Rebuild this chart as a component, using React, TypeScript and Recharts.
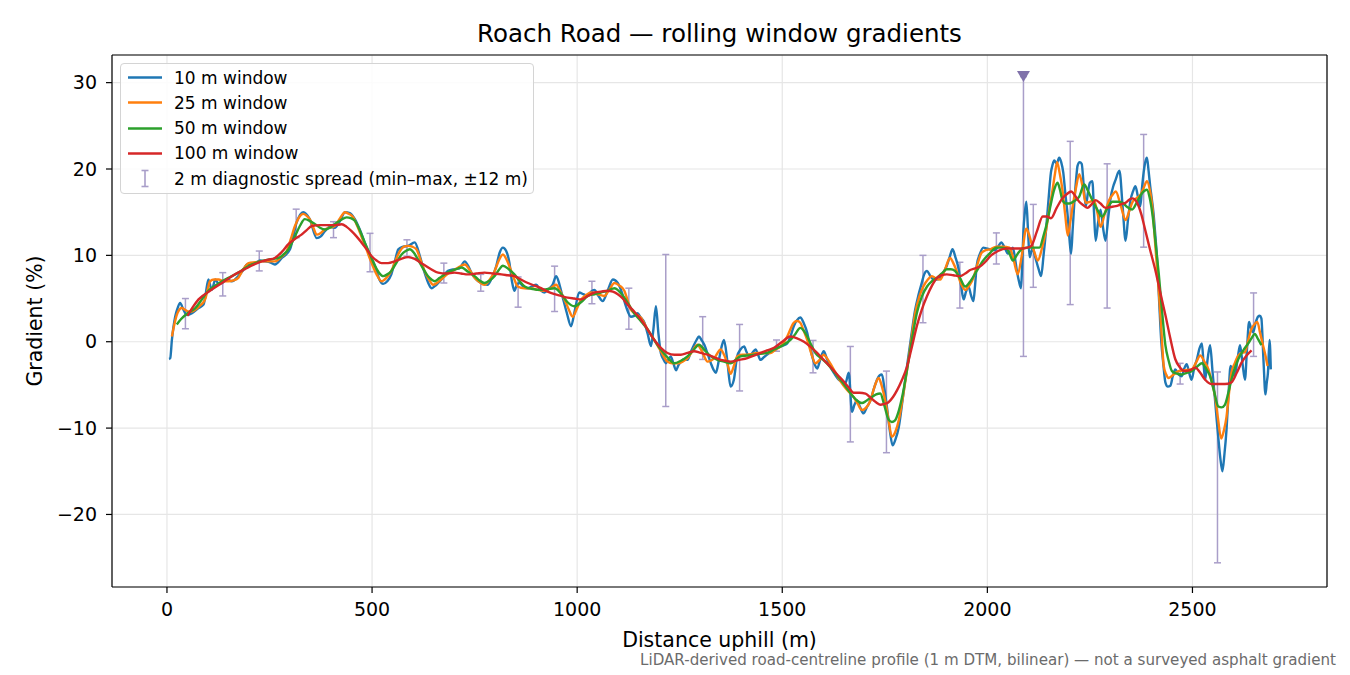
import { ComposedChart, Line, Scatter, ErrorBar, XAxis, YAxis, CartesianGrid, Label, ReferenceLine } from 'recharts';

const FONT = '"DejaVu Sans", "Liberation Sans", sans-serif';

// distance (m), gradient (%)
const W10: [number, number][] = [
  [5, -2.0], [8, -1.9], [12, 0.2], [20, 2.9], [26, 3.9], [32, 4.5], [40, 3.7], [49, 3.1], [61, 3.3], [77, 3.9],
  [89, 4.3], [93, 5.1], [101, 7.2], [109, 6.0], [118, 7.2], [126, 6.7], [134, 6.8], [146, 7.2], [158, 7.0], [174, 7.6],
  [186, 8.3], [195, 8.95], [205, 9.0], [215, 9.1], [227, 9.4], [239, 9.3], [251, 9.2], [263, 8.95], [280, 9.7], [300, 10.7],
  [316, 13.8], [332, 15.0], [348, 14.2], [365, 12.0], [375, 12.2], [385, 12.8], [397, 13.3], [409, 13.2], [422, 14.0], [434, 15.0],
  [446, 14.9], [458, 14.2], [470, 13.0], [482, 11.5], [495, 10.0], [507, 8.8], [517, 7.3], [527, 6.7], [537, 7.0], [547, 7.8],
  [556, 9.4], [564, 10.7], [576, 11.0], [588, 11.1], [604, 11.5], [616, 10.0], [628, 8.0], [637, 6.8], [645, 6.2], [657, 6.6],
  [669, 7.2], [685, 8.2], [701, 8.4], [713, 8.5], [726, 9.3], [734, 8.8], [742, 8.0], [754, 7.2], [766, 6.8], [782, 6.6],
  [793, 7.5], [803, 8.8], [811, 10.3], [819, 10.9], [827, 10.5], [835, 9.1], [841, 7.0], [847, 5.9], [853, 6.6], [860, 6.8],
  [870, 6.3], [880, 6.2], [890, 6.4], [900, 6.6], [910, 6.0], [920, 5.7], [930, 6.1], [940, 6.6], [949, 7.6], [957, 6.6],
  [965, 5.1], [975, 3.3], [985, 1.8], [995, 3.8], [1005, 5.7], [1015, 5.5], [1026, 5.3], [1034, 5.8], [1042, 6.0], [1052, 5.3],
  [1062, 4.7], [1075, 6.0], [1087, 7.2], [1099, 6.8], [1109, 5.7], [1119, 4.1], [1131, 2.9], [1139, 3.0], [1147, 3.3], [1155, 2.8],
  [1164, 2.2], [1172, 0.9], [1180, -0.5], [1186, 1.5], [1192, 4.1], [1198, 1.0], [1204, -1.3], [1210, -2.0], [1216, -2.5], [1222, -2.1],
  [1228, -1.7], [1234, -2.4], [1241, -3.3], [1247, -2.7], [1253, -2.3], [1261, -2.0], [1269, -2.1], [1277, -1.2], [1285, -0.35], [1291, 0.2],
  [1297, 0.6], [1303, 0.2], [1310, -0.35], [1318, -1.4], [1326, -2.5], [1332, -3.2], [1338, -3.6], [1346, -2.0], [1352, -0.6], [1358, 0.2],
  [1366, -2.2], [1374, -5.2], [1382, -4.4], [1390, -1.7], [1398, -0.9], [1407, -0.55], [1413, -1.2], [1419, -1.7], [1427, -1.3], [1435, -0.9],
  [1441, -1.5], [1447, -2.1], [1455, -1.8], [1463, -1.5], [1471, -1.2], [1480, -0.9], [1488, -0.7], [1496, -0.55], [1504, -0.4], [1512, -0.2],
  [1520, 0.6], [1528, 1.8], [1536, 2.5], [1544, 2.8], [1552, 2.2], [1561, 1.0], [1567, -0.4], [1573, -1.7], [1579, -2.6], [1585, -3.1],
  [1593, -2.0], [1601, -1.1], [1609, -2.0], [1617, -2.9], [1627, -3.7], [1638, -4.4], [1646, -4.6], [1654, -4.8], [1662, -3.6], [1670, -8.1],
  [1676, -7.3], [1682, -6.8], [1690, -7.6], [1698, -8.3], [1706, -7.6], [1715, -6.8], [1723, -5.5], [1731, -4.4], [1737, -3.9], [1743, -3.8],
  [1749, -5.4], [1755, -7.5], [1762, -10.2], [1769, -12.0], [1776, -11.3], [1784, -9.9], [1794, -6.5], [1804, -2.9], [1814, 0.5], [1824, 3.7],
  [1832, 5.4], [1840, 6.8], [1846, 7.8], [1853, 8.2], [1861, 7.6], [1869, 7.2], [1877, 7.2], [1885, 7.4], [1893, 8.0], [1901, 8.8],
  [1908, 9.8], [1915, 10.7], [1922, 9.8], [1930, 8.4], [1936, 6.5], [1942, 4.9], [1948, 5.8], [1954, 6.4], [1960, 5.4], [1966, 4.7],
  [1970, 6.5], [1974, 8.8], [1982, 10.2], [1990, 10.9], [1998, 10.8], [2007, 10.7], [2018, 10.6], [2026, 11.0], [2034, 11.5], [2042, 10.9],
  [2050, 10.2], [2056, 10.5], [2062, 10.9], [2067, 9.8], [2072, 8.2], [2077, 7.0], [2082, 6.2], [2085, 9.0], [2088, 12.9], [2091, 14.8],
  [2095, 16.2], [2099, 13.0], [2103, 9.8], [2107, 10.4], [2111, 10.9], [2115, 10.1], [2119, 9.4], [2125, 8.4], [2131, 7.6], [2137, 10.0],
  [2143, 12.9], [2149, 16.4], [2155, 19.6], [2159, 20.5], [2163, 21.0], [2169, 20.6], [2175, 21.3], [2180, 20.8], [2185, 19.6], [2190, 17.2],
  [2196, 14.5], [2200, 12.0], [2204, 10.2], [2208, 13.0], [2212, 16.1], [2216, 18.6], [2220, 20.4], [2225, 20.8], [2230, 20.6], [2235, 18.0],
  [2240, 15.7], [2245, 17.2], [2250, 18.4], [2256, 18.6], [2260, 15.0], [2264, 11.7], [2270, 13.8], [2276, 15.3], [2282, 13.2], [2288, 11.7],
  [2295, 14.5], [2301, 16.8], [2307, 18.0], [2313, 18.8], [2318, 19.5], [2322, 19.8], [2330, 15.5], [2337, 11.7], [2343, 14.2], [2349, 16.4],
  [2355, 17.4], [2361, 18.0], [2367, 16.8], [2373, 15.7], [2377, 17.8], [2381, 19.6], [2385, 20.8], [2389, 21.3], [2393, 19.8], [2397, 18.0],
  [2401, 16.5], [2405, 14.9], [2410, 12.0], [2414, 9.4], [2419, 4.5], [2424, 0.0], [2429, -2.6], [2434, -4.7], [2440, -5.2], [2446, -5.1],
  [2452, -4.0], [2458, -3.2], [2466, -3.8], [2474, -4.0], [2480, -3.1], [2486, -2.6], [2492, -3.6], [2498, -4.4], [2504, -3.1], [2511, -2.0],
  [2517, -0.8], [2523, -0.2], [2527, -2.5], [2531, -4.4], [2537, -2.0], [2543, -0.4], [2549, -3.5], [2555, -6.7], [2559, -9.0], [2563, -11.1],
  [2568, -13.5], [2573, -15.0], [2578, -13.0], [2583, -10.2], [2588, -6.0], [2593, -2.8], [2598, -3.4], [2603, -4.0], [2610, -2.0], [2616, -0.4],
  [2622, -2.5], [2628, -4.4], [2633, -0.8], [2638, 2.3], [2643, 1.5], [2648, 1.1], [2654, 2.2], [2660, 2.9], [2664, 3.0], [2668, 2.7],
  [2673, -2.0], [2678, -6.1], [2681, -4.8], [2684, -3.6], [2688, 0.2], [2691, -3.2],
];

const W25: [number, number][] = [
  [12, 0.6], [18, 2.0], [24, 3.1], [30, 3.7], [36, 3.9], [44, 3.7], [53, 3.5], [61, 3.5], [69, 3.7], [81, 4.2],
  [93, 4.9], [99, 6.0], [105, 7.0], [115, 7.2], [126, 7.2], [138, 7.0], [150, 7.0], [162, 7.1], [174, 7.4], [186, 8.4],
  [199, 9.1], [215, 9.2], [231, 9.3], [247, 9.3], [263, 9.3], [278, 9.8], [292, 10.5], [302, 11.9], [312, 13.4], [322, 14.4],
  [332, 14.8], [340, 14.6], [348, 14.2], [357, 13.2], [365, 12.4], [375, 12.6], [385, 13.0], [397, 13.2], [409, 13.4], [422, 14.3],
  [434, 15.0], [444, 14.8], [454, 14.4], [464, 13.4], [474, 12.2], [487, 10.6], [499, 9.1], [511, 7.8], [523, 7.0], [535, 7.4],
  [547, 8.2], [558, 9.5], [568, 10.5], [578, 11.0], [588, 11.1], [598, 11.0], [608, 10.7], [618, 9.5], [628, 8.2], [639, 7.2],
  [649, 6.6], [661, 6.9], [673, 7.4], [683, 7.8], [693, 8.1], [710, 8.6], [726, 8.95], [738, 8.3], [750, 7.4], [762, 6.9],
  [774, 6.6], [787, 7.2], [799, 8.2], [809, 9.4], [819, 10.1], [829, 9.4], [839, 8.2], [847, 7.2], [855, 6.4], [871, 6.2],
  [888, 6.2], [904, 6.0], [920, 5.9], [935, 6.2], [949, 6.6], [959, 5.8], [969, 4.9], [979, 3.8], [989, 2.9], [999, 3.8],
  [1010, 4.9], [1022, 5.4], [1034, 5.7], [1050, 5.5], [1066, 5.3], [1078, 6.0], [1091, 6.8], [1103, 6.5], [1115, 5.9], [1123, 4.8],
  [1131, 3.7], [1143, 3.2], [1155, 2.8], [1171, 1.5], [1188, 0.2], [1204, -1.1], [1220, -2.3], [1232, -2.5], [1245, -2.5], [1257, -2.3],
  [1269, -1.9], [1281, -1.1], [1293, -0.35], [1305, -1.2], [1318, -2.3], [1334, -1.9], [1350, -0.9], [1358, -1.5], [1366, -2.5], [1374, -3.7],
  [1382, -2.8], [1390, -1.7], [1402, -1.5], [1415, -1.5], [1427, -1.4], [1439, -1.3], [1455, -1.3], [1472, -1.3], [1484, -0.9], [1496, -0.55],
  [1512, 0.6], [1528, 2.2], [1536, 2.4], [1544, 2.2], [1552, 1.3], [1561, 0.2], [1571, -1.4], [1581, -2.5], [1591, -2.1], [1601, -1.5],
  [1609, -1.9], [1617, -2.5], [1630, -3.6], [1642, -4.6], [1658, -5.6], [1674, -6.4], [1684, -7.2], [1694, -7.9], [1705, -7.6], [1715, -6.8],
  [1725, -5.2], [1735, -4.2], [1743, -5.2], [1751, -6.8], [1759, -9.0], [1767, -11.0], [1776, -10.4], [1784, -9.1], [1794, -6.4], [1804, -3.3],
  [1814, 0.0], [1824, 3.3], [1834, 5.2], [1844, 6.4], [1855, 7.2], [1865, 7.6], [1875, 7.3], [1885, 7.2], [1897, 8.4], [1909, 9.7],
  [1917, 9.1], [1925, 8.2], [1935, 6.8], [1946, 6.0], [1956, 6.5], [1966, 7.4], [1976, 9.0], [1986, 10.3], [1996, 10.6], [2007, 10.7],
  [2022, 11.0], [2038, 11.0], [2054, 10.9], [2064, 9.5], [2074, 7.8], [2084, 10.0], [2095, 13.1], [2101, 12.5], [2107, 11.5], [2115, 10.3],
  [2123, 9.4], [2133, 10.8], [2143, 12.9], [2151, 15.3], [2159, 17.6], [2165, 19.5], [2170, 20.8], [2176, 19.6], [2183, 17.6], [2190, 14.6],
  [2196, 12.3], [2202, 13.8], [2208, 15.7], [2216, 17.8], [2224, 19.4], [2232, 18.0], [2240, 16.1], [2250, 16.2], [2260, 16.4], [2268, 15.0],
  [2276, 13.3], [2286, 14.8], [2297, 16.4], [2305, 17.0], [2313, 17.4], [2325, 15.8], [2337, 14.1], [2345, 15.0], [2353, 16.1], [2363, 16.6],
  [2373, 17.0], [2381, 17.8], [2389, 18.6], [2396, 17.6], [2402, 15.7], [2410, 10.8], [2418, 5.8], [2424, 1.5], [2430, -2.8], [2436, -3.8],
  [2442, -4.2], [2454, -3.8], [2466, -3.4], [2482, -3.3], [2498, -3.2], [2509, -2.4], [2519, -1.6], [2529, -2.3], [2539, -3.2], [2547, -4.6],
  [2555, -6.3], [2562, -8.8], [2570, -11.2], [2577, -10.2], [2583, -8.7], [2589, -6.0], [2595, -3.6], [2603, -2.5], [2612, -1.6], [2620, -1.3],
  [2628, -1.2], [2636, 0.2], [2644, 1.5], [2651, 2.0], [2658, 2.3], [2665, 1.0], [2672, -0.4], [2678, -1.6], [2683, -2.8],
];

const W50: [number, number][] = [
  [24, 2.0], [34, 2.6], [45, 3.1], [57, 3.5], [69, 3.9], [85, 4.9], [101, 5.9], [118, 6.5], [134, 7.0], [154, 7.5],
  [174, 8.0], [190, 8.5], [207, 8.95], [227, 9.3], [247, 9.5], [260, 9.6], [272, 9.7], [284, 10.1], [296, 10.7], [304, 11.4],
  [312, 12.2], [324, 13.4], [336, 14.2], [348, 14.0], [361, 13.6], [373, 13.2], [385, 13.0], [397, 13.2], [409, 13.6], [424, 14.1],
  [438, 14.4], [448, 14.3], [458, 14.0], [470, 12.9], [482, 11.5], [495, 10.1], [507, 8.8], [517, 8.0], [527, 7.6], [537, 7.8],
  [547, 8.2], [560, 9.2], [572, 10.1], [582, 10.5], [592, 10.7], [602, 10.3], [612, 9.5], [624, 8.5], [636, 7.6], [645, 7.2],
  [653, 7.0], [665, 7.4], [677, 7.8], [693, 8.2], [705, 8.4], [718, 8.6], [734, 8.1], [750, 7.6], [762, 7.1], [774, 6.8],
  [787, 7.1], [799, 7.6], [809, 8.3], [819, 8.8], [833, 8.4], [847, 7.8], [860, 7.0], [872, 6.4], [892, 6.1], [912, 6.0],
  [928, 6.1], [945, 6.2], [960, 5.6], [976, 4.6], [993, 4.1], [1010, 4.6], [1026, 5.3], [1042, 5.5], [1058, 5.7], [1074, 5.9],
  [1091, 6.2], [1103, 5.8], [1115, 5.1], [1127, 4.2], [1139, 3.3], [1155, 2.4], [1172, 1.4], [1188, 0.2], [1204, -0.9], [1220, -1.8],
  [1237, -2.5], [1253, -2.2], [1269, -1.7], [1283, -1.0], [1297, -0.35], [1311, -1.0], [1326, -1.7], [1342, -2.1], [1358, -2.3], [1374, -2.5],
  [1386, -2.1], [1398, -1.7], [1415, -1.6], [1431, -1.5], [1447, -1.4], [1463, -1.3], [1480, -0.9], [1496, -0.55], [1508, -0.2], [1520, 0.2],
  [1532, 0.9], [1544, 1.6], [1552, 1.3], [1561, 0.6], [1571, -0.4], [1581, -1.3], [1595, -1.9], [1609, -2.5], [1625, -3.4], [1642, -4.4],
  [1656, -5.3], [1670, -6.2], [1682, -6.8], [1694, -7.1], [1706, -6.8], [1719, -6.4], [1729, -6.1], [1739, -6.0], [1749, -7.4], [1759, -9.0],
  [1767, -9.3], [1775, -9.1], [1784, -8.0], [1794, -6.0], [1804, -3.3], [1816, 0.2], [1828, 3.3], [1840, 5.2], [1853, 6.4], [1865, 7.0],
  [1877, 7.4], [1889, 7.9], [1901, 8.4], [1911, 8.4], [1921, 8.2], [1934, 7.3], [1946, 6.4], [1960, 7.1], [1974, 8.2], [1990, 9.4],
  [2007, 10.3], [2022, 10.9], [2034, 10.9], [2046, 10.8], [2054, 10.2], [2062, 9.4], [2074, 10.2], [2086, 10.8], [2098, 10.9], [2111, 10.9],
  [2127, 10.9], [2137, 12.3], [2147, 14.1], [2155, 16.0], [2163, 17.6], [2171, 18.4], [2177, 17.6], [2183, 16.4], [2192, 16.0], [2200, 16.0],
  [2212, 16.3], [2224, 16.8], [2236, 18.2], [2246, 17.4], [2256, 16.4], [2268, 15.3], [2280, 14.5], [2292, 15.4], [2305, 16.2], [2317, 16.2],
  [2329, 16.1], [2341, 15.6], [2353, 15.3], [2365, 16.2], [2377, 17.2], [2389, 17.6], [2396, 16.6], [2402, 14.9], [2410, 11.5], [2418, 7.8],
  [2426, 3.5], [2434, -0.4], [2442, -2.2], [2450, -3.4], [2462, -3.7], [2474, -3.8], [2486, -3.6], [2498, -3.4], [2511, -2.9], [2523, -2.5],
  [2533, -3.1], [2543, -4.0], [2553, -5.8], [2563, -7.5], [2571, -7.6], [2579, -7.3], [2587, -6.0], [2595, -4.4], [2603, -3.1], [2612, -2.0],
  [2624, -1.0], [2636, -0.2], [2644, 0.4], [2652, 0.9], [2660, 0.3], [2668, -0.4],
];

const W100: [number, number][] = [
  [50, 3.0], [63, 4.0], [77, 4.9], [105, 5.9], [134, 6.8], [162, 7.7], [190, 8.4], [210, 8.9], [231, 9.3], [247, 9.5],
  [263, 9.7], [280, 10.4], [296, 11.3], [312, 11.9], [328, 12.4], [340, 12.9], [353, 13.4], [373, 13.5], [393, 13.5], [410, 13.5],
  [426, 13.6], [438, 13.3], [450, 12.8], [462, 12.2], [474, 11.5], [487, 10.7], [499, 9.9], [511, 9.4], [523, 9.1], [539, 9.1],
  [555, 9.3], [571, 9.6], [588, 9.8], [604, 9.6], [620, 9.1], [640, 8.5], [661, 8.0], [681, 7.9], [701, 8.0], [717, 7.9],
  [734, 7.8], [754, 7.9], [774, 8.0], [795, 7.9], [815, 7.8], [831, 7.7], [847, 7.6], [863, 7.2], [880, 6.8], [896, 6.5],
  [912, 6.2], [928, 5.8], [945, 5.5], [961, 5.3], [977, 5.1], [993, 5.0], [1010, 4.9], [1026, 5.3], [1042, 5.7], [1058, 5.8],
  [1074, 5.9], [1087, 5.8], [1099, 5.5], [1111, 5.0], [1123, 4.3], [1139, 3.5], [1155, 2.6], [1172, 1.4], [1188, 0.2], [1204, -0.7],
  [1220, -1.3], [1237, -1.5], [1253, -1.5], [1269, -1.3], [1285, -1.1], [1301, -1.3], [1318, -1.5], [1334, -1.8], [1350, -2.1], [1362, -2.2],
  [1374, -2.3], [1395, -2.1], [1415, -1.9], [1431, -1.6], [1447, -1.3], [1463, -1.0], [1480, -0.7], [1500, 0.0], [1520, 0.6], [1536, 0.4],
  [1553, 0.0], [1569, -0.6], [1585, -1.3], [1601, -2.1], [1617, -2.9], [1634, -3.8], [1650, -4.6], [1662, -5.3], [1674, -5.9], [1688, -5.9],
  [1703, -6.0], [1713, -6.4], [1723, -6.8], [1731, -7.1], [1739, -7.3], [1749, -7.2], [1759, -7.0], [1770, -6.4], [1780, -5.6], [1792, -4.4],
  [1804, -2.9], [1816, -0.6], [1828, 1.8], [1840, 3.7], [1853, 5.3], [1865, 6.5], [1877, 7.4], [1889, 7.7], [1901, 7.8], [1917, 7.7],
  [1934, 7.6], [1946, 7.9], [1958, 8.3], [1970, 8.5], [1982, 8.7], [1994, 9.2], [2007, 9.9], [2026, 10.5], [2046, 10.8], [2066, 10.8],
  [2086, 10.8], [2097, 10.9], [2107, 11.1], [2121, 12.8], [2135, 14.5], [2145, 14.5], [2155, 14.3], [2169, 15.5], [2183, 16.6], [2194, 17.1],
  [2204, 17.4], [2214, 16.9], [2224, 16.2], [2234, 15.8], [2244, 15.5], [2254, 15.9], [2264, 16.4], [2276, 16.0], [2288, 15.5], [2300, 15.6],
  [2313, 15.7], [2325, 15.9], [2337, 16.1], [2345, 16.4], [2353, 16.6], [2359, 16.5], [2365, 16.1], [2375, 14.8], [2385, 12.9], [2397, 10.6],
  [2410, 8.2], [2422, 5.6], [2434, 3.1], [2446, 0.4], [2458, -2.0], [2470, -3.0], [2482, -3.4], [2494, -3.3], [2507, -3.0], [2519, -3.6],
  [2531, -4.4], [2547, -4.9], [2563, -4.9], [2579, -4.9], [2595, -4.7], [2608, -3.6], [2620, -2.4], [2632, -1.6], [2644, -1.0],
];

// 2 m diagnostic spread, min and max within ±12 m
const SPREAD_X = [45, 136, 225, 315, 406, 495, 585, 675, 765, 856, 945, 1036, 1126, 1216, 1306, 1396, 1486, 1575, 1666, 1754, 1843, 1933, 2022, 2112, 2202, 2292, 2381, 2470, 2561, 2649];
const SPREAD_MIN = [1.5, 5.3, 8.2, 12.05, 12.05, 8.1, 9.9, 6.8, 5.85, 4.0, 3.5, 4.4, 1.45, -7.5, -2.05, -5.7, -1.1, -3.6, -11.6, -12.85, 2.2, 3.9, 9.0, 6.3, 4.3, 3.9, 10.95, -4.9, -25.6, -1.7];
const SPREAD_MAX = [5.0, 8.0, 10.5, 15.35, 13.9, 12.55, 11.8, 9.1, 7.8, 7.5, 8.75, 7.0, 6.2, 10.1, 2.9, 2.0, 0.2, 0.15, -0.55, -3.4, 10.0, 9.2, 12.6, 15.9, 23.2, 20.6, 24.0, -2.5, -3.5, 5.65];

// spike whose max runs off the top: bar drawn up to the clip marker
const CLIPPED_X = 2088;
const CLIPPED_MIN = -1.7;
const CLIPPED_CAP = 30.7;

const X_TICKS = [0, 500, 1000, 1500, 2000, 2500];
const Y_TICKS = [-20, -10, 0, 10, 20, 30];
const X_DOMAIN = [-134, 2828];
const Y_DOMAIN = [-28.4, 33.2];

const SERIES = [
  { name: '10 m window', points: W10, color: '#1f77b4' },
  { name: '25 m window', points: W25, color: '#ff7f0e' },
  { name: '50 m window', points: W50, color: '#2ca02c' },
  { name: '100 m window', points: W100, color: '#d62728' },
];
const SPREAD_LABEL = '2 m diagnostic spread (min–max, ±12 m)';
const SPREAD_COLOR = '#a99ec9';
const MARKER_COLOR = '#8072aa';

const toRows = (pts: [number, number][]) => pts.map(([x, y]) => ({ x, y }));

const spreadRows = SPREAD_X.map((x, i) => ({
    x,
    y: (SPREAD_MIN[i] + SPREAD_MAX[i]) / 2,
    err: (SPREAD_MAX[i] - SPREAD_MIN[i]) / 2,
}));
const clippedRows = [{ x: CLIPPED_X, y: (CLIPPED_MIN + CLIPPED_CAP) / 2, err: (CLIPPED_CAP - CLIPPED_MIN) / 2 }];
const markerRows = [{ x: CLIPPED_X, y: CLIPPED_CAP }];

const fmtY = (v: number) => (v < 0 ? `\u2212${Math.abs(v)}` : `${v}`);

const Empty = () => <g />;
const DownTriangle = (p: any) => (
    <path d={`M${p.cx - 6.5},${p.cy - 5.5} L${p.cx + 6.5},${p.cy - 5.5} L${p.cx},${p.cy + 5.5} Z`} fill={MARKER_COLOR} />
);

const tickStyle = { fill: '#000', fontSize: 19, fontFamily: FONT };
const axisStroke = { stroke: '#000', strokeWidth: 1.2 };

function Legend() {
    return (
        <div style={{
            position: 'absolute', left: 120, top: 63, width: 414, height: 131,
            border: '1px solid #d4d4d4', borderRadius: 4, background: 'rgba(255,255,255,0.85)',
            boxSizing: 'border-box', fontFamily: FONT, fontSize: 17, color: '#000',
        }}>
            {SERIES.map((s, i) => (
                <div key={s.name} style={{ position: 'absolute', left: 0, top: 1 + i * 25.3, height: 25, display: 'flex', alignItems: 'center' }}>
                    <svg width={53} height={25}>
                        <line x1={7} x2={41} y1={12.5} y2={12.5} stroke={s.color} strokeWidth={2.6} />
                    </svg>
                    <span style={{ whiteSpace: 'nowrap' }}>{s.name}</span>
                </div>
            ))}
            <div style={{ position: 'absolute', left: 0, top: 1 + 4 * 25.3, height: 25, display: 'flex', alignItems: 'center' }}>
                <svg width={53} height={25}>
                    <line x1={24} x2={24} y1={4.5} y2={20.5} stroke={SPREAD_COLOR} strokeWidth={1.6} />
                    <line x1={20.5} x2={27.5} y1={4.5} y2={4.5} stroke={SPREAD_COLOR} strokeWidth={1.6} />
                    <line x1={20.5} x2={27.5} y1={20.5} y2={20.5} stroke={SPREAD_COLOR} strokeWidth={1.6} />
                </svg>
                <span style={{ whiteSpace: 'nowrap' }}>{SPREAD_LABEL}</span>
            </div>
        </div>
    );
}

export default function App() {
    return (
        <div style={{ position: 'absolute', left: 0, top: 0, width: 1350, height: 675, background: '#fff' }}>
            <ComposedChart width={1350} height={675} margin={{ top: 55, right: 23, bottom: 0, left: 0 }}>
                <CartesianGrid stroke="#e6e6e6" strokeWidth={1.2} />
                <XAxis
                    dataKey="x"
                    type="number"
                    domain={X_DOMAIN}
                    ticks={X_TICKS}
                    allowDataOverflow
                    height={88}
                    tickSize={6}
                    tickMargin={10}
                    tick={tickStyle}
                    tickLine={axisStroke}
                    axisLine={axisStroke}
                >
                    <Label
                        content={({ viewBox }: any) => (
                            <text x={viewBox.x + viewBox.width / 2} y={viewBox.y + 60} textAnchor="middle"
                                fontFamily={FONT} fontSize={20.5} fill="#000">Distance uphill (m)</text>
                        )}
                    />
                </XAxis>
                <YAxis
                    type="number"
                    domain={Y_DOMAIN}
                    ticks={Y_TICKS}
                    allowDataOverflow
                    width={112}
                    tickSize={6}
                    tickMargin={9}
                    tick={tickStyle}
                    tickLine={axisStroke}
                    axisLine={axisStroke}
                    tickFormatter={fmtY}
                >
                    <Label
                        content={({ viewBox }: any) => {
                            const cx = 42;
                            const cy = viewBox.y + viewBox.height / 2;
                            return (
                                <text x={cx} y={cy} textAnchor="middle" transform={`rotate(-90 ${cx} ${cy})`}
                                    fontFamily={FONT} fontSize={20.5} fill="#000">Gradient (%)</text>
                            );
                        }}
                    />
                </YAxis>

                {/* top and right spines */}
                <ReferenceLine y={Y_DOMAIN[1]} stroke="#000" strokeWidth={1.2} />
                <ReferenceLine x={X_DOMAIN[1]} stroke="#000" strokeWidth={1.2} />

                <Scatter data={spreadRows} dataKey="y" shape={Empty} isAnimationActive={false} legendType="none">
                    <ErrorBar dataKey="err" direction="y" width={3.5} stroke={SPREAD_COLOR} strokeWidth={1.5} />
                </Scatter>
                <Scatter data={clippedRows} dataKey="y" shape={Empty} isAnimationActive={false} legendType="none">
                    <ErrorBar dataKey="err" direction="y" width={3.5} stroke={SPREAD_COLOR} strokeWidth={1.5} />
                </Scatter>

                {SERIES.map((s) => (
                    <Line
                        key={s.name}
                        data={toRows(s.points)}
                        dataKey="y"
                        name={s.name}
                        type="monotone"
                        stroke={s.color}
                        strokeWidth={2.4}
                        dot={false}
                        activeDot={false}
                        isAnimationActive={false}
                    />
                ))}

                <Scatter data={markerRows} dataKey="y" shape={DownTriangle} isAnimationActive={false} legendType="none" />
            </ComposedChart>

            <svg width={1350} height={675} style={{ position: 'absolute', left: 0, top: 0, pointerEvents: 'none' }}>
                <text x={719.5} y={42} textAnchor="middle" fontFamily={FONT} fontSize={24.5} fill="#000">
                    Roach Road — rolling window gradients
                </text>
                <text x={1336} y={665} textAnchor="end" fontFamily={FONT} fontSize={15.1} fill="#6b6b6b">
                    LiDAR-derived road-centreline profile (1 m DTM, bilinear) — not a surveyed asphalt gradient
                </text>
            </svg>
            <Legend />
        </div>
    );
}
